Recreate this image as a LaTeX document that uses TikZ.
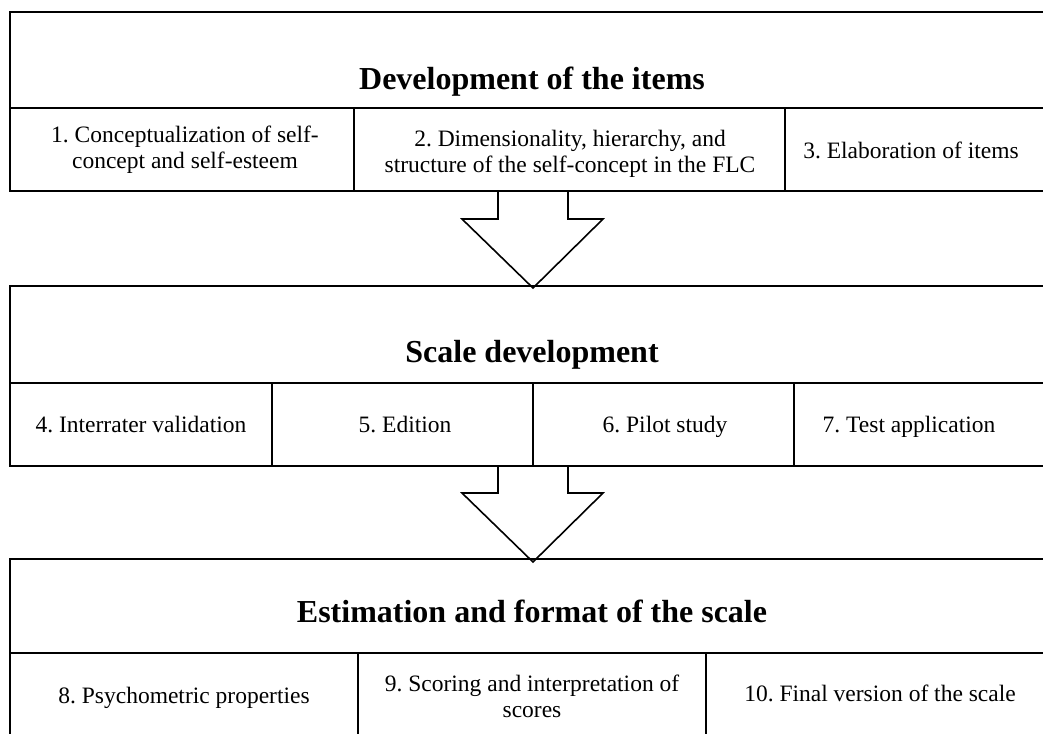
\documentclass[tikz,border=0pt]{standalone}
\usepackage{fontspec}
\setmainfont{Liberation Serif}
\frenchspacing

\begin{document}
\begin{tikzpicture}[x=1pt,y=-1pt,line join=miter,
  box/.style={line width=2pt},
  blockarrow/.style={line width=1.6pt},
  title/.style={font=\fontsize{32}{36}\selectfont\bfseries},
  cell/.style={font=\fontsize{23.5}{25.5}\selectfont,align=center,
    execute at begin node=\strut,execute at end node=\strut}]
\useasboundingbox (0,0) rectangle (1043,733);
% development of the items
\draw[box] (10,12) rectangle (1060,191);
\draw[box] (10,108) -- (1060,108);
\draw[box] (354,108) -- (354,191);
\draw[box] (785,108) -- (785,191);
\node[title] (dev) at (532,82) {Development of the items};
\node[cell] (c1) at (185,151) {1. Conceptualization of self-\\concept and self-esteem};
\node[cell] (c2) at (570,155) {2. Dimensionality, hierarchy, and\\structure of the self-concept in the FLC};
\node[cell] (c3) at (911,153) {3. Elaboration of items};
% scale development
\draw[box] (10,286) rectangle (1060,466);
\draw[box] (10,383) -- (1060,383);
\draw[box] (272,383) -- (272,466);
\draw[box] (533,383) -- (533,466);
\draw[box] (794,383) -- (794,466);
\node[title] (scale) at (532,355) {Scale development};
\node[cell] (c4) at (141,427) {4. Interrater validation};
\node[cell] (c5) at (405,427) {5. Edition};
\node[cell] (c6) at (665,427) {6. Pilot study};
\node[cell] (c7) at (909,427) {7. Test application};
% estimation and format
\draw[box] (10,559) rectangle (1060,760);
\draw[box] (10,653) -- (1060,653);
\draw[box] (358,653) -- (358,760);
\draw[box] (706,653) -- (706,760);
\node[title] (est) at (532,611) {Estimation and format of the scale};
\node[cell] (c8) at (184,698) {8. Psychometric properties};
\node[cell] (c9) at (532,700) {9. Scoring and interpretation of\\scores};
\node[cell] (c10) at (880,696) {10. Final version of the scale};
% arrows
\coordinate (a1) at (533,191);
\coordinate (a2) at (533,466);
\draw[blockarrow] (a1) ++(-35,0) -- ++(0,28) -- ++(-36,0) -- ++(71,69) -- ++(70,-69) -- ++(-35,0) -- ++(0,-28);
\draw[blockarrow] (a2) ++(-35,0) -- ++(0,27) -- ++(-36,0) -- ++(71,69) -- ++(70,-69) -- ++(-35,0) -- ++(0,-27);
\end{tikzpicture}
\end{document}
